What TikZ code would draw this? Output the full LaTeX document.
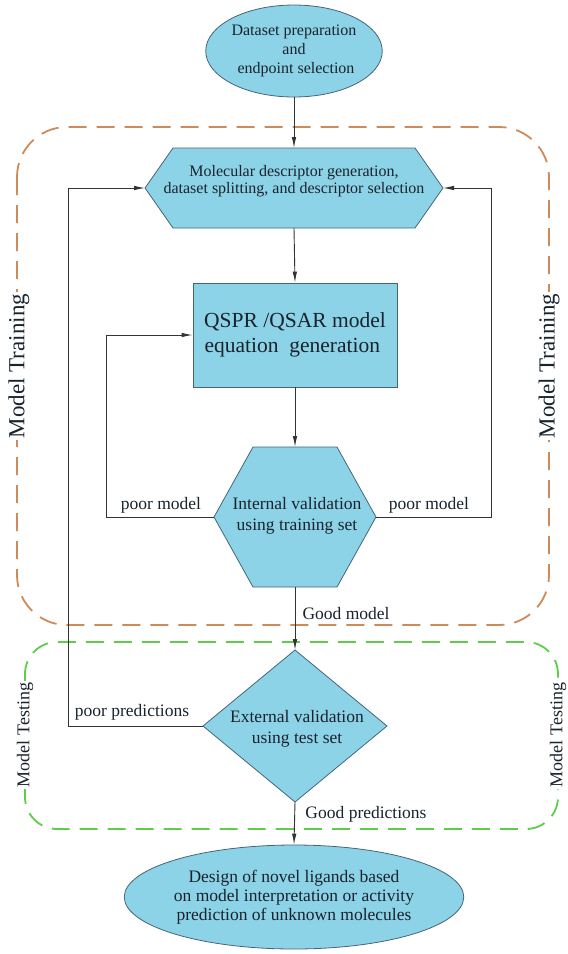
\documentclass[tikz,border=0pt]{standalone}
\usepackage{fontspec}
\setmainfont{Liberation Serif}
\usetikzlibrary{shapes.geometric,arrows.meta}
\definecolor{boxfill}{RGB}{141,211,232}
\definecolor{boxline}{RGB}{70,100,120}
\definecolor{trainc}{RGB}{205,138,90}
\definecolor{testc}{RGB}{95,205,75}
\definecolor{txt}{RGB}{25,35,45}
\begin{document}
\begin{tikzpicture}[x=1pt,y=-1pt,
  shapebox/.style={fill=boxfill,draw=boxline,line width=0.8pt},
  conn/.style={draw=black!80,line width=0.9pt},
  arr/.style={conn,-{Latex[length=11pt,width=4.5pt]}},
  lbl/.style={font=\fontsize{17.5}{20}\selectfont,text=txt,inner sep=0pt},
  ntext/.style={text=txt,inner sep=0pt,align=center},
  sidelbl/.style={fill=white,text=txt,inner sep=2pt,rotate=90},
  trainbox/.style={draw=trainc,line width=1.8pt,dash pattern=on 18pt off 10pt,rounded corners=50pt},
  testbox/.style={draw=testc,line width=1.8pt,dash pattern=on 18pt off 10pt,rounded corners=32pt}]
\useasboundingbox (0,0) rectangle (568,954);

% dashed group boxes
\draw[trainbox] (17,127) rectangle (549,625);
\draw[testbox] (25,642) rectangle (558,829);
\node[sidelbl,font=\fontsize{23}{26}\selectfont] (trainL) at (19,366) {Model Training};
\node[sidelbl,font=\fontsize{23}{26}\selectfont] (trainR) at (549,366) {Model Training};
\node[sidelbl,font=\fontsize{18}{20}\selectfont] (testL) at (25,735) {Model Testing};
\node[sidelbl,font=\fontsize{18}{20}\selectfont] (testR) at (558,735) {Model Testing};

% top ellipse
\node[ellipse,shapebox,minimum width=172pt,minimum height=92pt,inner sep=0pt,ntext,
  font=\fontsize{16}{19}\selectfont] (e1) at (294,51) {Dataset preparation\\and\\ \ endpoint selection};

% hexagon 1
\filldraw[shapebox] (145,188) -- (173,148) -- (415,148) -- (443,188) -- (415,228) -- (173,228) -- cycle;
\coordinate (h1n) at (294,148);
\coordinate (h1s) at (294,228);
\coordinate (h1w) at (145,188);
\coordinate (h1e) at (443,188);
\node[ntext,font=\fontsize{16}{17.5}\selectfont] (h1) at (294,181) {Molecular descriptor generation,\\dataset splitting, and descriptor selection};

% rectangle
\node[shapebox,minimum width=204pt,minimum height=104pt,inner sep=0pt,ntext,
  font=\fontsize{21.5}{25}\selectfont] (rect) at (295,335) {QSPR /QSAR model\\equation \ generation\ \ };

% hexagon 2
\filldraw[shapebox] (214,517) -- (253,447) -- (337,447) -- (376,517) -- (337,587) -- (253,587) -- cycle;
\coordinate (h2n) at (295,447);
\coordinate (h2s) at (295,587);
\coordinate (h2w) at (214,517);
\coordinate (h2e) at (376,517);
\node[ntext,font=\fontsize{17.5}{21}\selectfont] (h2) at (297,516) {Internal validation\\using training set};

% diamond
\filldraw[shapebox] (295,650) -- (387,726) -- (295,802) -- (203,726) -- cycle;
\coordinate (dn) at (295,650);
\coordinate (ds) at (295,802);
\coordinate (dw) at (203,726);
\node[ntext,font=\fontsize{17.5}{21}\selectfont] (dia) at (297,729) {External validation\\using test set};

% bottom ellipse
\node[ellipse,shapebox,minimum width=322pt,minimum height=104pt,inner sep=0pt,ntext,
  font=\fontsize{17.5}{19}\selectfont] (e2) at (294,897) {Design of novel ligands based\\on model interpretation or activity\\prediction of unknown molecules};

% corner coordinates for feedback loops
\coordinate (c1) at (68,726);
\coordinate (c2) at (68,188);
\coordinate (c3) at (106,517);
\coordinate (c4) at (106,335);
\coordinate (c5) at (491,517);
\coordinate (c6) at (491,188);

% main flow
\draw[arr] (e1.south) -- (h1n);
\draw[arr] (h1s) -- (rect.north);
\draw[arr] (rect.south) -- (h2n);
\draw[arr] (h2s) -- (dn);
\draw[arr] (ds) -- (e2.north);

% feedback loops
\draw[arr] (dw) -- (c1) -- (c2) -- (h1w);
\draw[arr] (h2w) -- (c3) -- (c4) -- (rect.west);
\draw[arr] (h2e) -- (c5) -- (c6) -- (h1e);

% labels
\node[lbl] (pm1) at (161,505) {poor model};
\node[lbl] (pm2) at (429,505) {poor model};
\node[lbl] (gm) at (346,614) {Good model};
\node[lbl] (pp) at (132,712) {poor predictions};
\node[lbl] (gp) at (366,814) {Good predictions};
\end{tikzpicture}
\end{document}
